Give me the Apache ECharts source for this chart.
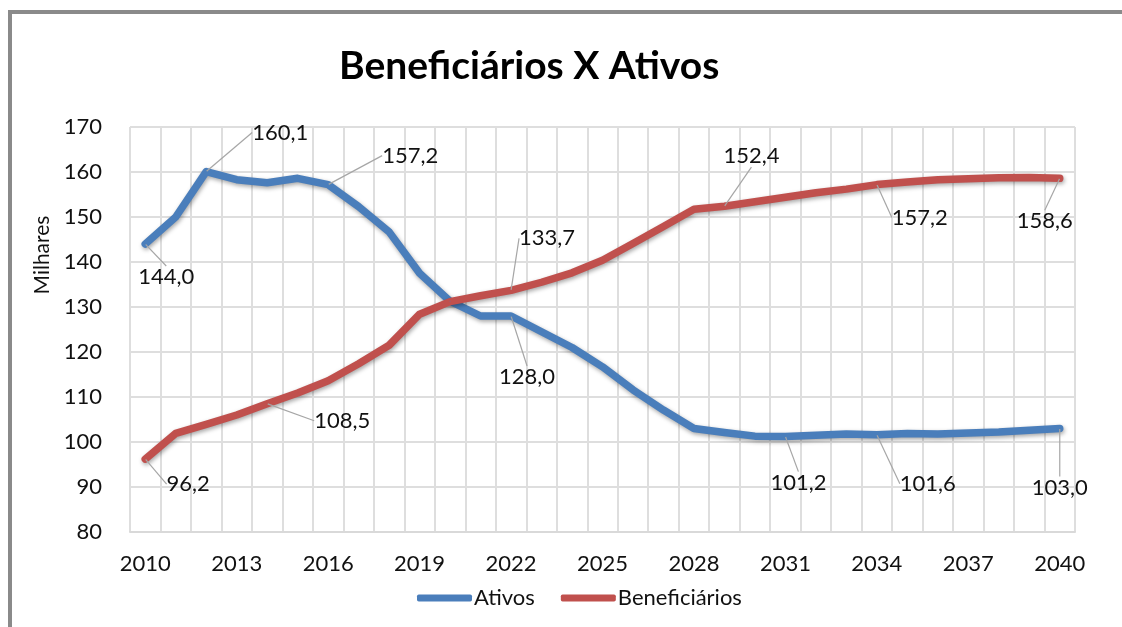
<!DOCTYPE html>
<html>
<head>
<meta charset="utf-8">
<script src="https://cdn.jsdelivr.net/npm/echarts@6/dist/echarts.min.js"></script>
<style>
  html, body { margin: 0; padding: 0; background: #fff; }
  #chart { width: 1122px; height: 627px; }
</style>
</head>
<body>
<div id="chart"></div>
<script>
// dados
var anos = [];
for (var a = 2010; a <= 2040; a++) anos.push(String(a));

var ativos = [144.0, 150.0, 160.1, 158.3, 157.6, 158.6, 157.2, 152.3, 146.7, 137.5,
              131.3, 128.0, 128.0, 124.5, 121.0, 116.7, 111.6, 107.1, 103.0, 102.1,
              101.3, 101.2, 101.5, 101.8, 101.6, 101.9, 101.8, 102.0, 102.2, 102.6, 103.0];
var beneficiarios = [96.2, 101.9, 103.9, 106.0, 108.5, 110.9, 113.6, 117.4, 121.5, 128.4,
                     131.2, 132.5, 133.7, 135.5, 137.6, 140.4, 144.1, 147.9, 151.7, 152.4,
                     153.4, 154.4, 155.4, 156.2, 157.2, 157.8, 158.3, 158.5, 158.7, 158.8, 158.6];

// pontos com rótulo
var rotulosAtivos = [0, 2, 6, 12, 21, 24, 30];
var rotulosBenef = [0, 4, 12, 19, 24, 30];

// deslocamento dos rótulos (px) em relação ao ponto
var desloc = [
  {0: [21, 33], 2: [74, -39], 6: [82, -29], 12: [16, 61], 21: [13, 46], 24: [51, 49], 30: [0, 59]},
  {0: [43, 25], 4: [75, 17], 12: [36, -52], 19: [27, -50], 24: [43, 33], 30: [-15, 43]}
];

var fonte = 'Lato';

function fmt(v) {
  return v.toFixed(1).replace('.', ',');
}

function montaDados(vals, idx) {
  return vals.map(function (v, i) {
    if (idx.indexOf(i) >= 0) return { value: v, label: { show: true } };
    return v;
  });
}

var myChart = echarts.init(document.getElementById('chart'));

function serie(nome, vals, idx, cor) {
  return {
    name: nome,
    type: 'line',
    data: montaDados(vals, idx),
    showSymbol: true,
    symbol: 'circle',
    symbolSize: 1,
    itemStyle: { color: cor },
    lineStyle: {
      color: cor,
      width: 7.5,
      cap: 'round',
      join: 'round',
      shadowBlur: 4,
      shadowColor: 'rgba(0,0,0,0.35)',
      shadowOffsetX: 1,
      shadowOffsetY: 2
    },
    emphasis: { disabled: true },
    label: {
      show: false,
      position: 'inside',
      fontFamily: fonte,
      fontSize: 22,
      color: '#111',
      formatter: function (p) { return fmt(p.value); }
    },
    labelLine: {
      show: true,
      lineStyle: { color: '#a6a6a6', width: 1.2 }
    }
  };
}

var option = {
  animation: false,
  backgroundColor: '#fff',
  title: {
    text: 'Beneficiários X Ativos',
    left: 334,
    top: 42,
    textStyle: { fontFamily: fonte, fontWeight: 'bold', fontSize: 39, color: '#000' }
  },
  graphic: [
    {
      type: 'rect',
      shape: { x: 10, y: 12, width: 1300, height: 800 },
      style: { fill: 'none', stroke: '#8a8a8a', lineWidth: 4 },
      silent: true
    },
    {
      type: 'text',
      x: 42,
      y: 255,
      rotation: Math.PI / 2,
      style: {
        text: 'Milhares',
        fontFamily: fonte,
        fontSize: 21,
        fill: '#111',
        align: 'center',
        verticalAlign: 'middle'
      }
    }
  ],
  legend: {
    bottom: 13,
    left: 412,
    icon: 'roundRect',
    itemWidth: 55,
    itemHeight: 7,
    itemGap: 26,
    textStyle: { fontFamily: fonte, fontSize: 22, color: '#111', padding: [0, 0, 0, -3] },
    data: ['Ativos', 'Beneficiários']
  },
  grid: { left: 130, right: 47, top: 127, bottom: 95 },
  xAxis: {
    type: 'category',
    data: anos,
    boundaryGap: true,
    axisLine: { lineStyle: { color: '#d9d9d9', width: 2 } },
    axisTick: { show: false },
    axisLabel: { interval: 2, margin: 21, fontFamily: fonte, fontSize: 22, color: '#111' },
    splitLine: { show: true, interval: 0, lineStyle: { color: '#dedede', width: 2 } }
  },
  yAxis: {
    type: 'value',
    min: 80,
    max: 170,
    interval: 10,
    axisLine: { show: false },
    axisTick: { show: false },
    axisLabel: { margin: 28, fontFamily: fonte, fontSize: 22, color: '#111' },
    splitLine: { lineStyle: { color: '#dedede', width: 2 } }
  },
  labelLayout: function (p) {
    var d = desloc[p.seriesIndex][p.dataIndex];
    if (!d) return {};
    return { dx: d[0], dy: d[1] };
  },
  series: [
    serie('Ativos', ativos, rotulosAtivos, '#4a7ebb'),
    serie('Beneficiários', beneficiarios, rotulosBenef, '#c0504d')
  ]
};

myChart.setOption(option);
window.addEventListener('resize', function () {
  myChart.resize();
});
</script>
</body>
</html>
